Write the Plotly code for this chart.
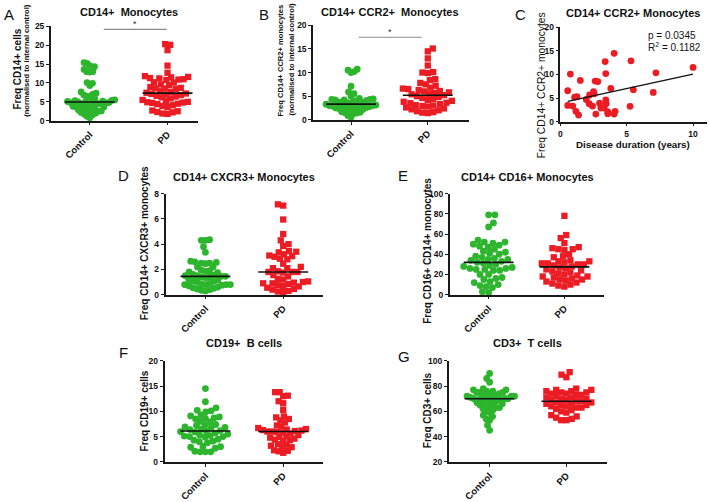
import numpy as np
import plotly.graph_objects as go

W, H = 709, 502
FONT = "Liberation Sans, Arial, sans-serif"
GREEN = "#2DB52D"
RED = "#EC1C24"
GROUPS = ["Control", "PD"]

# ---------------- data ----------------
a_control = [15.4, 15.2, 14.6, 14.3, 13.6, 13.0, 13.0, 12.9, 10.1, 9.9, 9.3, 7.6, 7.3, 7.0, 6.8,
             6.5, 6.2, 5.8, 5.5, 5.4, 5.3, 5.2, 5.1, 5.0, 5.0, 4.9, 4.8, 4.8, 4.7, 4.6, 4.5, 4.4,
             4.3, 3.8, 3.7, 3.6, 3.6, 3.5, 3.4, 3.3, 2.8, 2.6, 2.5, 2.4, 2.2, 2.0, 1.8, 1.5, 1.2, 0.8]
a_pd = [20.3, 20.1, 18.7, 14.6, 12.7, 11.8, 11.6, 11.5, 11.3, 11.2, 11.0, 10.9, 10.8, 10.2, 10.1,
        9.6, 9.4, 8.9, 8.7, 8.6, 8.5, 8.4, 7.8, 7.6, 7.4, 7.2, 7.1, 6.9, 6.8, 6.6, 6.4, 6.2, 5.9,
        5.5, 5.2, 5.0, 4.9, 4.8, 4.7, 4.5, 4.4, 4.1, 3.9, 3.6, 2.7, 2.5, 2.3, 2.2, 1.9, 1.8]

b_control = [10.7, 10.5, 10.2, 10.0, 7.1, 5.9, 5.5, 5.0, 4.5, 4.4, 4.3, 4.3, 4.2, 4.2, 4.1, 4.0,
             3.9, 3.8, 3.7, 3.6, 3.5, 3.4, 3.3, 3.2, 3.1, 3.0, 3.0, 2.9, 2.8, 2.8, 2.7, 2.6, 2.6,
             2.5, 2.4, 2.3, 2.2, 2.1, 1.7, 1.6, 1.5, 1.4, 1.3, 0.9, 0.5]
b_pd = [15.1, 14.5, 13.0, 11.5, 10.1, 10.0, 9.9, 8.6, 8.4, 7.8, 7.5, 7.2, 6.8, 6.6, 6.5, 6.3,
        6.1, 6.0, 5.8, 5.7, 5.5, 5.4, 5.2, 5.0, 4.8, 4.6, 4.4, 4.2, 4.0, 3.8, 3.6, 3.5, 3.3, 3.1,
        3.0, 2.9, 2.8, 2.6, 2.4, 2.2, 2.0, 1.8, 1.6, 1.5, 1.4]

c_duration = [0.55, 0.75, 0.55, 0.93, 1.07, 1.25, 1.17, 1.37, 1.5, 1.95, 2.2, 2.17, 2.42, 2.5,
              2.55, 2.62, 2.82, 2.67, 2.95, 3.05, 3.3, 3.37, 3.42, 3.42, 3.45, 3.57, 3.57, 3.8,
              4.05, 4.05, 4.12, 5.32, 5.25, 5.5, 7.0, 7.2, 10.0]
c_ccr2 = [6.55, 10.1, 3.45, 3.3, 5.2, 5.3, 2.2, 1.4, 8.75, 4.7, 5.65, 3.8, 3.3, 6.35, 5.9, 8.6,
          8.5, 1.6, 3.9, 2.9, 2.9, 12.75, 10.2, 4.6, 3.8, 1.7, 2.1, 7.05, 14.5, 1.6, 2.2, 12.9,
          3.25, 6.75, 6.2, 10.35, 11.5]
c_fit_intercept = 3.97
c_fit_slope = 0.61
c_stats = ["p = 0.0345", "R<sup>2</sup> = 0.1182"]

d_control = [4.35, 4.3, 4.3, 3.8, 3.35, 2.65, 2.6, 2.55, 2.5, 2.5, 2.45, 2.2, 2.2, 1.95, 1.9,
             1.85, 1.8, 1.75, 1.6, 1.55, 1.5, 1.5, 1.45, 1.45, 1.4, 1.4, 1.35, 1.2, 1.15, 1.1,
             1.05, 1.0, 0.9, 0.85, 0.8, 0.8, 0.8, 0.8, 0.75, 0.7, 0.6, 0.55, 0.5, 0.45, 0.4,
             0.35, 0.3]
d_pd = [7.15, 7.05, 5.95, 4.8, 4.3, 4.0, 3.85, 3.45, 3.4, 3.35, 3.2, 3.1, 3.05, 3.0, 2.85, 2.8,
        2.45, 2.2, 2.1, 2.1, 1.85, 1.8, 1.8, 1.8, 1.75, 1.55, 1.45, 1.25, 1.2, 1.05, 1.0, 0.95,
        0.9, 0.9, 0.85, 0.75, 0.7, 0.65, 0.55, 0.45, 0.4, 0.3, 0.25, 0.2]

e_control = [79, 79, 71, 67, 54, 52, 52, 51, 50, 49, 48, 47, 45, 43, 42, 41, 40, 38, 37, 36, 35,
             35, 34, 33, 32, 31, 30, 29, 28, 27, 26, 26, 25, 25, 24, 24, 20, 20, 17, 16, 15, 13,
             12, 10, 9, 8, 7, 3, 2]
e_pd = [78, 59, 56, 51, 47, 46, 45, 45, 44, 40, 38, 37, 34, 33, 33, 32, 31, 31, 30, 30, 29, 28,
        27, 26, 25, 24, 23, 22, 21, 20, 19, 18, 18, 17, 16, 15, 15, 14, 13, 12, 11, 10, 9, 8]

f_control = [14.5, 11.9, 10.7, 10.2, 10.1, 9.9, 9.3, 9.1, 8.9, 8.7, 8.6, 8.5, 8.0, 7.9, 7.4, 7.3,
             7.2, 6.9, 6.8, 6.7, 6.5, 6.4, 6.2, 6.1, 6.0, 5.9, 5.7, 5.5, 5.3, 5.2, 5.1, 5.0, 5.0,
             4.9, 4.5, 4.3, 4.1, 4.0, 3.8, 3.1, 3.0, 2.9, 2.7, 2.1, 2.0, 2.0, 2.0]
f_pd = [13.8, 13.8, 13.1, 13.0, 12.0, 11.6, 10.3, 9.0, 8.8, 8.5, 8.2, 7.8, 7.2, 7.0, 6.7, 6.5,
        6.4, 6.3, 6.2, 6.1, 6.0, 6.0, 5.9, 5.8, 5.6, 5.3, 5.1, 4.9, 4.8, 4.6, 4.4, 4.3, 4.2, 3.5,
        3.4, 3.2, 3.0, 2.9, 2.3, 2.2, 2.1, 1.8]

g_control = [90, 86, 83, 78, 77, 77, 76, 76, 75, 75, 75, 74, 74, 73, 73, 72, 72, 72, 71, 71, 71,
             70, 70, 70, 70, 69, 69, 68, 68, 67, 66, 66, 65, 65, 64, 63, 63, 62, 61, 60, 59, 57,
             56, 54, 53, 49, 45]
g_pd = [91, 89, 87, 78, 77, 77, 76, 76, 75, 75, 74, 74, 73, 73, 72, 71, 71, 70, 70, 69, 69, 68,
        68, 67, 67, 66, 66, 65, 65, 64, 64, 63, 63, 62, 61, 60, 59, 57, 56, 55, 54, 53, 53]

titles = {
    "A": "CD14+  Monocytes", "B": "CD14+ CCR2+  Monocytes", "C": "CD14+ CCR2+ Monocytes",
    "D": "CD14+ CXCR3+ Monocytes", "E": "CD14+ CD16+ Monocytes",
    "F": "CD19+  B cells", "G": "CD3+  T cells",
}

# ---------------- layout geometry (pixels) ----------------
dot_panels = [
    dict(key="A", ctrl=a_control, pd=a_pd, box=(49, 197, 22, 119), cx=(88, 166), yr=(0, 25), dt=5),
    dict(key="B", ctrl=b_control, pd=b_pd, box=(312, 468, 21, 118), cx=(350, 427), yr=(0, 20), dt=5),
    dict(key="D", ctrl=d_control, pd=d_pd, box=(164, 322, 194, 298), cx=(204, 282), yr=(0, 8), dt=2),
    dict(key="E", ctrl=e_control, pd=e_pd, box=(449, 604, 194, 298), cx=(488, 564), yr=(0, 100), dt=20),
    dict(key="F", ctrl=f_control, pd=f_pd, box=(163, 322, 366, 470), cx=(204, 282), yr=(0, 20), dt=5),
    dict(key="G", ctrl=g_control, pd=g_pd, box=(448, 607, 366, 470), cx=(489, 566), yr=(20, 100), dt=20),
]
c_box = (560, 707, 23, 120)
SWARM_DIST = 6.4      # px collision distance
SWARM_HALF = 25.0     # px maximum half width of a swarm


def swarm_offsets(values, ppu_y, dist, half):
    vals = np.asarray(values, float)
    order = np.argsort(vals, kind="stable")
    px, py = [], []
    offs = np.zeros(len(vals))
    base = np.arange(1, 600) * 0.5
    for n, i in enumerate(order):
        y = vals[i] * ppu_y
        sgn = 1 if n % 2 == 0 else -1
        cands = np.concatenate([[0.0], np.ravel(np.column_stack([sgn * base, -sgn * base]))])
        ax, ay = np.array(px), np.array(py)
        chosen = 0.0
        for c in cands:
            if len(ax) == 0 or np.all((ax - c) ** 2 + (ay - y) ** 2 >= dist * dist):
                chosen = c
                break
        px.append(chosen)
        py.append(y)
        offs[i] = chosen
    m = np.max(np.abs(offs))
    if m > half:
        offs = offs * half / m
    return offs


fig = go.Figure()
layout = dict(
    width=W, height=H, margin=dict(l=0, r=0, t=0, b=0),
    paper_bgcolor="white", plot_bgcolor="white", showlegend=False,
    font=dict(family=FONT, color="#111"),
)
annotations = []
shapes = []

axis_common = dict(
    showline=True, linecolor="#1a1a1a", linewidth=1.6, ticks="outside", ticklen=3,
    tickwidth=1.4, tickcolor="#1a1a1a", showgrid=False, zeroline=False,
    tickfont=dict(family=FONT, size=8.5, color="#111", weight="bold"),
)


def ax_names(i):
    return ("xaxis" if i == 1 else f"xaxis{i}", "yaxis" if i == 1 else f"yaxis{i}",
            "x" if i == 1 else f"x{i}", "y" if i == 1 else f"y{i}")


sig = {"A": dict(x0=0.18, x1=0.99, y=24.2), "B": dict(x0=0.10, x1=0.92, y=17.5)}

idx = 0
for p in dot_panels:
    idx += 1
    xa, ya, xr, yr_ = ax_names(idx)
    l, r, t, b = p["box"]
    c0, c1 = p["cx"]
    ppu_x = c1 - c0
    ppu_y = (b - t) / (p["yr"][1] - p["yr"][0])
    xrange = [(l - c0) / ppu_x, (r - c0) / ppu_x]
    layout[xa] = dict(axis_common, domain=[l / W, r / W], range=xrange, anchor=yr_,
                      tickvals=[0, 1], ticktext=GROUPS, tickangle=-45,
                      tickfont=dict(family=FONT, size=9.5, color="#111", weight="bold"))
    layout[ya] = dict(axis_common, domain=[1 - b / H, 1 - t / H], range=list(p["yr"]),
                      anchor=xr, dtick=p["dt"], tick0=p["yr"][0])
    for gi, (vals, col, sym, sz) in enumerate([(p["ctrl"], GREEN, "circle", 6.8),
                                               (p["pd"], RED, "square", 6.3)]):
        offs = swarm_offsets(vals, ppu_y, SWARM_DIST, SWARM_HALF)
        fig.add_trace(go.Scatter(
            x=gi + offs / ppu_x, y=vals, mode="markers", xaxis=xr, yaxis=yr_,
            marker=dict(color=col, symbol=sym, size=sz, line=dict(width=0)),
            cliponaxis=False, hoverinfo="skip"))
        med = float(np.median(vals))
        hw = 25 / ppu_x
        fig.add_trace(go.Scatter(
            x=[gi - hw, gi + hw], y=[med, med], mode="lines", xaxis=xr, yaxis=yr_,
            line=dict(color="#111", width=1.6), hoverinfo="skip"))
    if p["key"] in sig:
        s = sig[p["key"]]
        shapes.append(dict(type="line", xref=xr, yref=yr_, x0=s["x0"], x1=s["x1"],
                           y0=s["y"], y1=s["y"], line=dict(color="#8a8a8a", width=1.1)))
        annotations.append(dict(text="*", xref=xr, yref=yr_, x=(s["x0"] + s["x1"]) / 2,
                                y=s["y"], yanchor="bottom", showarrow=False, yshift=-2,
                                font=dict(family=FONT, size=9, color="#333")))

# ---------------- panel C (scatter + regression) ----------------
idx += 1
xa, ya, xr, yr_ = ax_names(idx)
l, r, t, b = c_box
ppu_cx = (693 - 560) / 10.0
layout[xa] = dict(axis_common, domain=[l / W, r / W], range=[0, (r - l) / ppu_cx], anchor=yr_,
                  tickvals=[0, 5, 10])
layout[ya] = dict(axis_common, domain=[1 - b / H, 1 - t / H], range=[0, 20], anchor=xr,
                  tickvals=[0, 5, 10, 15, 20])
fig.add_trace(go.Scatter(x=c_duration, y=c_ccr2, mode="markers", xaxis=xr, yaxis=yr_,
                         marker=dict(color=RED, size=6.8, line=dict(width=0)),
                         cliponaxis=False, hoverinfo="skip"))
fx = np.array([min(c_duration), max(c_duration)])
fig.add_trace(go.Scatter(x=fx, y=c_fit_intercept + c_fit_slope * fx, mode="lines",
                         xaxis=xr, yaxis=yr_, line=dict(color="#111", width=1.4),
                         hoverinfo="skip"))


def pann(text, x, y, size, bold=True, angle=0, xanchor="center"):
    annotations.append(dict(
        text=text, x=x / W, y=1 - y / H, xref="paper", yref="paper", showarrow=False,
        xanchor=xanchor, yanchor="middle", textangle=angle,
        font=dict(family=FONT, size=size, color="#111",
                  weight=("bold" if bold else "normal"))))


pann(c_stats[0], 646, 31, 10, bold=False, xanchor="left")
pann(c_stats[1], 646, 43, 10, bold=False, xanchor="left")
pann("Disease duration (years)", 633, 143, 9.8)

title_pos = {"A": (127, 7), "B": (389, 7), "C": (633, 8), "D": (243, 177),
             "E": (527, 177), "F": (243, 348), "G": (527, 348)}
for k, (x, y) in title_pos.items():
    pann(titles[k], x, y, 11)

letter_pos = {"A": (7, 10), "B": (263, 10), "C": (520, 10), "D": (122, 175),
              "E": (402, 175), "F": (122, 357), "G": (403, 362)}
for k, (x, y) in letter_pos.items():
    pann(k, x, y, 15, bold=False)

pann("Freq CD14+ cells", 15.5, 66, 10, angle=-90)
pann("(normalised to internal control)", 24.5, 57, 7.6, angle=-90)
pann("Freq CD14+ CCR2+ monocytes", 279, 57, 7.6, angle=-90)
pann("(normalised to internal control)", 290, 56, 7.6, angle=-90)
pann("Freq CD14+ CCR2+ monocytes", 541, 82, 10.3, bold=False, angle=-90)
pann("Freq CD14+ CXCR3+ monocytes", 142.5, 245, 10, angle=-90)
pann("Freq CD16+ CD14+ monocytes", 427, 253, 10, angle=-90)
pann("Freq CD19+ cells", 142.5, 418, 10, angle=-90)
pann("Freq CD3+ cells", 427, 417, 10, angle=-90)

layout["annotations"] = annotations
layout["shapes"] = shapes
fig.update_layout(**layout)
fig.write_html("out.html", config={"displayModeBar": False},
               post_script="document.body.style.margin='0px';")
